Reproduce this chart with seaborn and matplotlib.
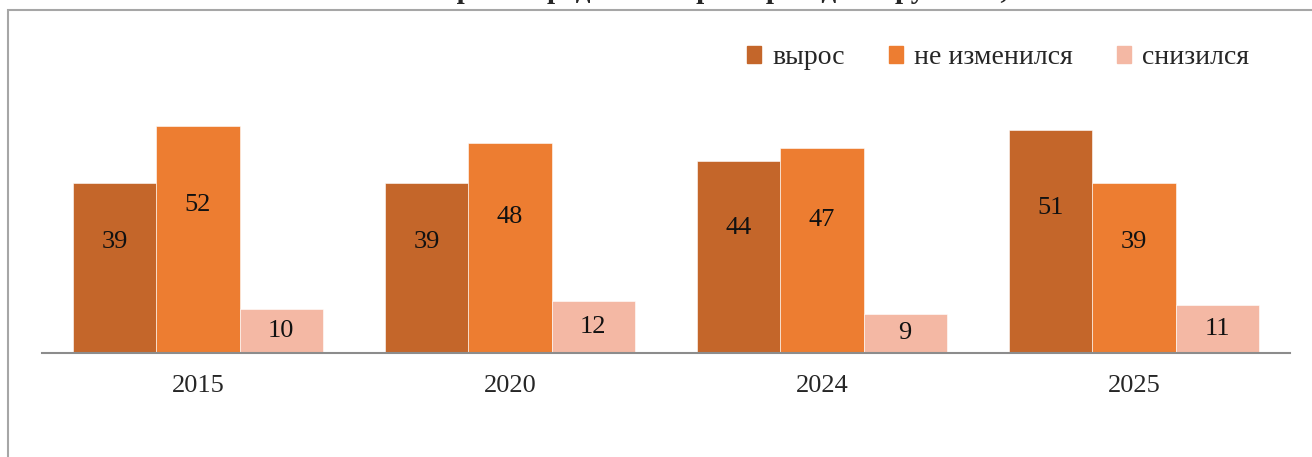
import matplotlib.pyplot as plt
import matplotlib.patches as mpatches
import pandas as pd
import seaborn as sns

years = ["2015", "2020", "2024", "2025"]
grew = [39, 39, 44, 51]
same = [52, 48, 47, 39]
fell = [10, 12, 9, 11]
series = ["вырос", "не изменился", "снизился"]
colors = ["#C4662A", "#ED7D31", "#F4B8A4"]
title = "Как изменился интерес к предметам при переходе на русский, %"

df = pd.DataFrame({
    "year": years * 3,
    "value": grew + same + fell,
    "series": [series[0]] * 4 + [series[1]] * 4 + [series[2]] * 4,
})

sns.set_style("white")
plt.rcParams['font.family'] = ['Liberation Serif', 'DejaVu Serif']

fig = plt.figure(figsize=(13.12, 4.57), dpi=100)
ax = fig.add_axes([42 / 1312, (457 - 353) / 457, (1290 - 42) / 1312, 262 / 457])

sns.barplot(data=df, x="year", y="value", hue="series", palette=colors,
            width=0.8, saturation=1, ax=ax, legend=False)
for p in ax.patches:
    p.set_edgecolor("white")
    p.set_linewidth(0.4)

# value labels
for p in ax.patches:
    h = p.get_height()
    if h == 0:
        continue
    frac = 0.65 if h > 20 else 0.5
    ax.text(p.get_x() + p.get_width() / 2, h * frac, f"{int(h)}",
            ha="center", va="center", fontsize=19, color="#111111")

ax.set_ylim(0, 60)
ax.set_xlim(-0.5, 3.5)
ax.set_xlabel("")
ax.set_ylabel("")
ax.set_yticks([])
ax.tick_params(axis="x", length=0, labelsize=19, pad=16)
for s in ["top", "right", "left"]:
    ax.spines[s].set_visible(False)
ax.spines["bottom"].set_color("#8C8C8C")
ax.spines["bottom"].set_linewidth(1.5)

handles = [mpatches.Patch(color=c, label=l) for c, l in zip(colors, series)]
fig.legend(handles=handles, loc="center left", bbox_to_anchor=(722 / 1312, 1 - 58 / 457),
           ncol=3, frameon=False, fontsize=20, handlelength=0.5, handleheight=0.55,
           handletextpad=0.4, columnspacing=1.6)

# outer frame
fig.patches.append(mpatches.Rectangle((8 / 1312, -0.1), 1.2, 1 - 10 / 457 + 0.1,
                                      transform=fig.transFigure, fill=False,
                                      edgecolor="#A6A6A6", linewidth=1.5))
# title: only its lower edge falls inside the picture, as in the source
fig.text(0.47, 1 + 2 / 457, title, ha="center", va="baseline", fontsize=21,
         fontweight="bold")

fig.savefig("out.png", dpi=100)
